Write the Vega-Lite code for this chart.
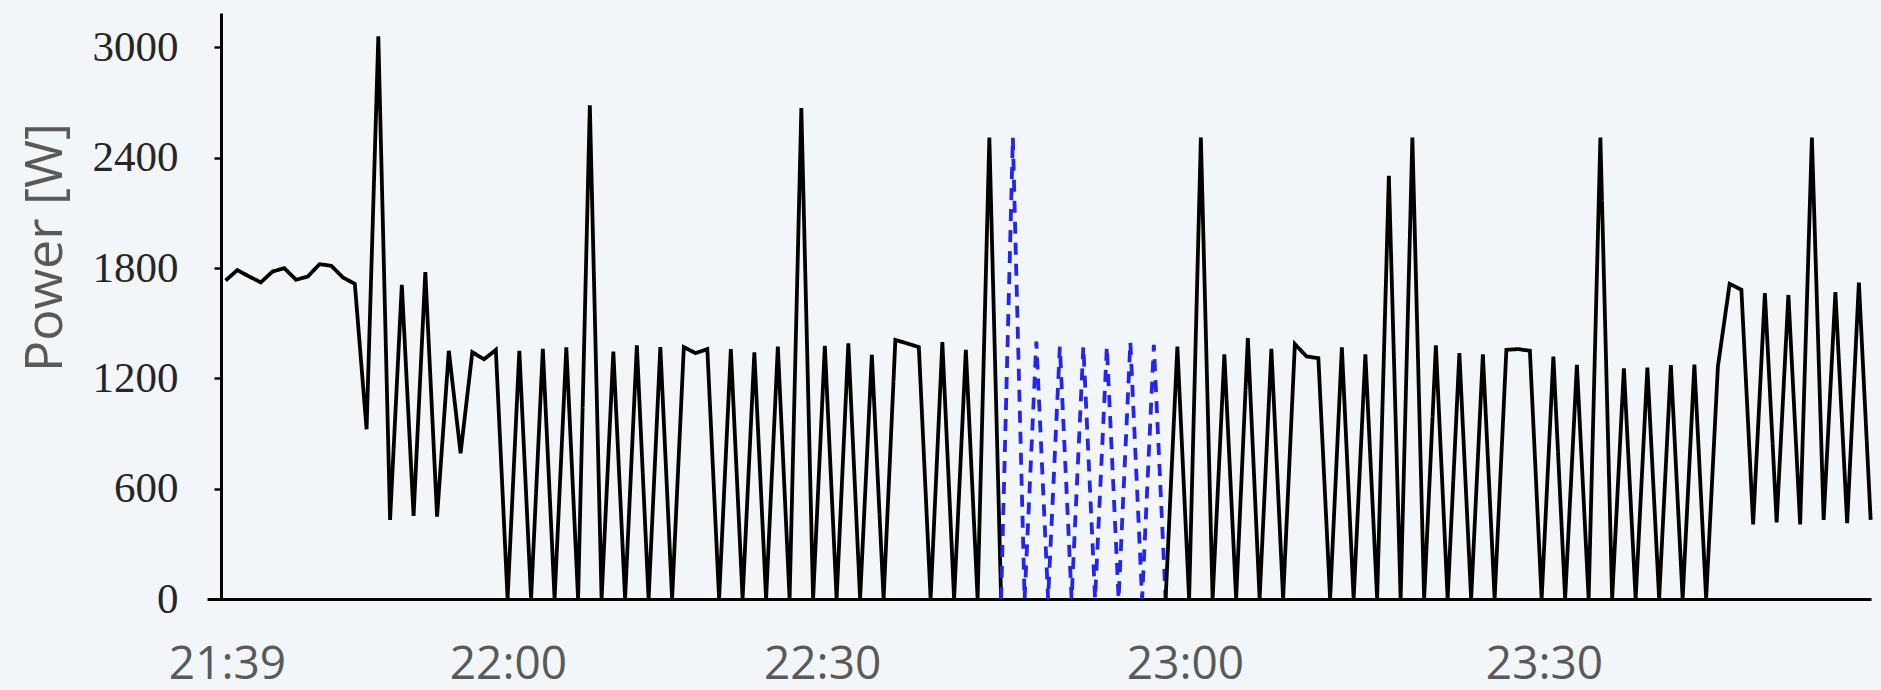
{
  "$schema": "https://vega.github.io/schema/vega-lite/v6.json",
  "width": 1664,
  "height": 586,
  "autosize": {"type": "none"},
  "padding": {"left": 207, "top": 13, "right": 10, "bottom": 91},
  "background": "#f3f6f9",
  "config": {"view": {"stroke": null}},
  "data": {"values": [
    {"sample": 0, "power": 1732, "segment": "a"},
    {"sample": 1, "power": 1789, "segment": "a"},
    {"sample": 2, "power": 1754, "segment": "a"},
    {"sample": 3, "power": 1722, "segment": "a"},
    {"sample": 4, "power": 1781, "segment": "a"},
    {"sample": 5, "power": 1799, "segment": "a"},
    {"sample": 6, "power": 1736, "segment": "a"},
    {"sample": 7, "power": 1754, "segment": "a"},
    {"sample": 8, "power": 1821, "segment": "a"},
    {"sample": 9, "power": 1812, "segment": "a"},
    {"sample": 10, "power": 1748, "segment": "a"},
    {"sample": 11, "power": 1714, "segment": "a"},
    {"sample": 12, "power": 923, "segment": "a"},
    {"sample": 13, "power": 3060, "segment": "a"},
    {"sample": 14, "power": 430, "segment": "a"},
    {"sample": 15, "power": 1709, "segment": "a"},
    {"sample": 16, "power": 452, "segment": "a"},
    {"sample": 17, "power": 1778, "segment": "a"},
    {"sample": 18, "power": 448, "segment": "a"},
    {"sample": 19, "power": 1350, "segment": "a"},
    {"sample": 20, "power": 793, "segment": "a"},
    {"sample": 21, "power": 1342, "segment": "a"},
    {"sample": 22, "power": 1304, "segment": "a"},
    {"sample": 23, "power": 1355, "segment": "a"},
    {"sample": 24, "power": 0, "segment": "a"},
    {"sample": 25, "power": 1350, "segment": "a"},
    {"sample": 26, "power": 0, "segment": "a"},
    {"sample": 27, "power": 1360, "segment": "a"},
    {"sample": 28, "power": 0, "segment": "a"},
    {"sample": 29, "power": 1368, "segment": "a"},
    {"sample": 30, "power": 0, "segment": "a"},
    {"sample": 31, "power": 2685, "segment": "a"},
    {"sample": 32, "power": 0, "segment": "a"},
    {"sample": 33, "power": 1346, "segment": "a"},
    {"sample": 34, "power": 0, "segment": "a"},
    {"sample": 35, "power": 1379, "segment": "a"},
    {"sample": 36, "power": 0, "segment": "a"},
    {"sample": 37, "power": 1370, "segment": "a"},
    {"sample": 38, "power": 0, "segment": "a"},
    {"sample": 39, "power": 1370, "segment": "a"},
    {"sample": 40, "power": 1337, "segment": "a"},
    {"sample": 41, "power": 1359, "segment": "a"},
    {"sample": 42, "power": 0, "segment": "a"},
    {"sample": 43, "power": 1359, "segment": "a"},
    {"sample": 44, "power": 0, "segment": "a"},
    {"sample": 45, "power": 1341, "segment": "a"},
    {"sample": 46, "power": 0, "segment": "a"},
    {"sample": 47, "power": 1373, "segment": "a"},
    {"sample": 48, "power": 0, "segment": "a"},
    {"sample": 49, "power": 2670, "segment": "a"},
    {"sample": 50, "power": 0, "segment": "a"},
    {"sample": 51, "power": 1377, "segment": "a"},
    {"sample": 52, "power": 0, "segment": "a"},
    {"sample": 53, "power": 1391, "segment": "a"},
    {"sample": 54, "power": 0, "segment": "a"},
    {"sample": 55, "power": 1328, "segment": "a"},
    {"sample": 56, "power": 0, "segment": "a"},
    {"sample": 57, "power": 1409, "segment": "a"},
    {"sample": 58, "power": 1390, "segment": "a"},
    {"sample": 59, "power": 1370, "segment": "a"},
    {"sample": 60, "power": 0, "segment": "a"},
    {"sample": 61, "power": 1397, "segment": "a"},
    {"sample": 62, "power": 0, "segment": "a"},
    {"sample": 63, "power": 1355, "segment": "a"},
    {"sample": 64, "power": 0, "segment": "a"},
    {"sample": 65, "power": 2510, "segment": "a"},
    {"sample": 66, "power": 0, "segment": "a"},
    {"sample": 66, "power": 0, "segment": "b"},
    {"sample": 67, "power": 2510, "segment": "b"},
    {"sample": 68, "power": 0, "segment": "b"},
    {"sample": 69, "power": 1400, "segment": "b"},
    {"sample": 70, "power": 0, "segment": "b"},
    {"sample": 71, "power": 1373, "segment": "b"},
    {"sample": 72, "power": 0, "segment": "b"},
    {"sample": 73, "power": 1373, "segment": "b"},
    {"sample": 74, "power": 0, "segment": "b"},
    {"sample": 75, "power": 1373, "segment": "b"},
    {"sample": 76, "power": 0, "segment": "b"},
    {"sample": 77, "power": 1397, "segment": "b"},
    {"sample": 78, "power": 0, "segment": "b"},
    {"sample": 79, "power": 1382, "segment": "b"},
    {"sample": 80, "power": 0, "segment": "b"},
    {"sample": 80, "power": 0, "segment": "c"},
    {"sample": 81, "power": 1373, "segment": "c"},
    {"sample": 82, "power": 0, "segment": "c"},
    {"sample": 83, "power": 2510, "segment": "c"},
    {"sample": 84, "power": 0, "segment": "c"},
    {"sample": 85, "power": 1331, "segment": "c"},
    {"sample": 86, "power": 0, "segment": "c"},
    {"sample": 87, "power": 1419, "segment": "c"},
    {"sample": 88, "power": 0, "segment": "c"},
    {"sample": 89, "power": 1361, "segment": "c"},
    {"sample": 90, "power": 0, "segment": "c"},
    {"sample": 91, "power": 1386, "segment": "c"},
    {"sample": 92, "power": 1319, "segment": "c"},
    {"sample": 93, "power": 1310, "segment": "c"},
    {"sample": 94, "power": 0, "segment": "c"},
    {"sample": 95, "power": 1368, "segment": "c"},
    {"sample": 96, "power": 0, "segment": "c"},
    {"sample": 97, "power": 1331, "segment": "c"},
    {"sample": 98, "power": 0, "segment": "c"},
    {"sample": 99, "power": 2302, "segment": "c"},
    {"sample": 100, "power": 0, "segment": "c"},
    {"sample": 101, "power": 2510, "segment": "c"},
    {"sample": 102, "power": 0, "segment": "c"},
    {"sample": 103, "power": 1379, "segment": "c"},
    {"sample": 104, "power": 0, "segment": "c"},
    {"sample": 105, "power": 1337, "segment": "c"},
    {"sample": 106, "power": 0, "segment": "c"},
    {"sample": 107, "power": 1331, "segment": "c"},
    {"sample": 108, "power": 0, "segment": "c"},
    {"sample": 109, "power": 1355, "segment": "c"},
    {"sample": 110, "power": 1359, "segment": "c"},
    {"sample": 111, "power": 1350, "segment": "c"},
    {"sample": 112, "power": 0, "segment": "c"},
    {"sample": 113, "power": 1319, "segment": "c"},
    {"sample": 114, "power": 0, "segment": "c"},
    {"sample": 115, "power": 1273, "segment": "c"},
    {"sample": 116, "power": 0, "segment": "c"},
    {"sample": 117, "power": 2510, "segment": "c"},
    {"sample": 118, "power": 0, "segment": "c"},
    {"sample": 119, "power": 1255, "segment": "c"},
    {"sample": 120, "power": 0, "segment": "c"},
    {"sample": 121, "power": 1259, "segment": "c"},
    {"sample": 122, "power": 0, "segment": "c"},
    {"sample": 123, "power": 1272, "segment": "c"},
    {"sample": 124, "power": 0, "segment": "c"},
    {"sample": 125, "power": 1275, "segment": "c"},
    {"sample": 126, "power": 0, "segment": "c"},
    {"sample": 127, "power": 1264, "segment": "c"},
    {"sample": 128, "power": 1714, "segment": "c"},
    {"sample": 129, "power": 1682, "segment": "c"},
    {"sample": 130, "power": 406, "segment": "c"},
    {"sample": 131, "power": 1663, "segment": "c"},
    {"sample": 132, "power": 417, "segment": "c"},
    {"sample": 133, "power": 1654, "segment": "c"},
    {"sample": 134, "power": 406, "segment": "c"},
    {"sample": 135, "power": 2510, "segment": "c"},
    {"sample": 136, "power": 430, "segment": "c"},
    {"sample": 137, "power": 1669, "segment": "c"},
    {"sample": 138, "power": 412, "segment": "c"},
    {"sample": 139, "power": 1721, "segment": "c"},
    {"sample": 140, "power": 430, "segment": "c"}
  ]},
  "mark": {"type": "line", "strokeWidth": 3.8},
  "encoding": {
    "x": {
      "field": "sample",
      "type": "quantitative",
      "scale": {"domain": [-1.58, 140.03], "nice": false, "zero": false},
      "axis": {
        "orient": "bottom",
        "title": null,
        "values": [0.12, 24.03, 50.77, 81.65, 112.2],
        "labelExpr": "datum.value < 1 ? '21:39' : datum.value < 30 ? '22:00' : datum.value < 60 ? '22:30' : datum.value < 90 ? '23:00' : '23:30'",
        "grid": false,
        "ticks": false,
        "tickSize": 0,
        "domainColor": "#000000",
        "domainWidth": 3,
        "labelFont": "Open Sans",
        "labelFontSize": 46,
        "labelColor": "#595959",
        "labelPadding": 43,
        "labelFlush": false,
        "labelOverlap": false,
        "labelBound": false
      }
    },
    "y": {
      "field": "power",
      "type": "quantitative",
      "scale": {"domain": [0, 3187], "nice": false},
      "axis": {
        "orient": "left",
        "offset": -14,
        "values": [0, 600, 1200, 1800, 2400, 3000],
        "format": "d",
        "grid": false,
        "domainColor": "#000000",
        "domainWidth": 3,
        "tickColor": "#000000",
        "tickWidth": 2.4,
        "tickSize": 7,
        "labelFont": "Liberation Serif",
        "labelFontSize": 43,
        "labelColor": "#262626",
        "labelPadding": 36,
        "labelOverlap": false,
        "title": "Power [W]",
        "titleFont": "Open Sans",
        "titleFontSize": 52,
        "titleFontWeight": "normal",
        "titleColor": "#595959",
        "titleAngle": -90,
        "titleX": -160,
        "titleY": 234,
        "titleAlign": "center",
        "titleBaseline": "alphabetic"
      }
    },
    "color": {
      "field": "segment",
      "type": "nominal",
      "scale": {"domain": ["a", "b", "c"], "range": ["#000000", "#2323f2", "#000000"]},
      "legend": null
    },
    "strokeDash": {
      "field": "segment",
      "type": "nominal",
      "scale": {"domain": ["a", "b", "c"], "range": [[1, 0], [12, 9], [1, 0]]},
      "legend": null
    }
  }
}
